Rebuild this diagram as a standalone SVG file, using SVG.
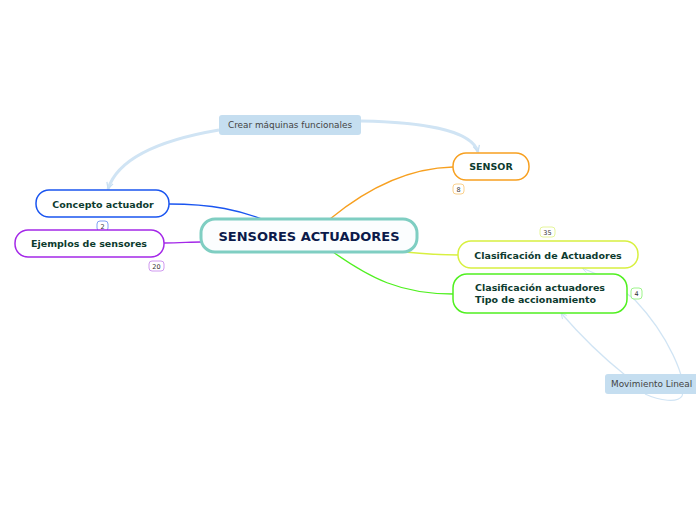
<svg xmlns="http://www.w3.org/2000/svg" width="696" height="520" viewBox="0 0 696 520">
<defs>
<style>
.node{fill:#ffffff;stroke-width:1.5}
.t{font-family:"DejaVu Sans",Verdana,sans-serif;font-weight:bold;font-size:9.5px;fill:#0d3b2e}
.badge{fill:#ffffff;stroke-width:1}
.bt{font-family:"DejaVu Sans",Verdana,sans-serif;font-size:6.5px;fill:#333;text-anchor:middle}
.lbl{fill:#c5def0}
.lt{font-family:"DejaVu Sans",Verdana,sans-serif;font-size:8.9px;fill:#444}
.rel{fill:none;stroke:#d0e4f4}
.c{fill:none;stroke-width:1.3}
</style>
<marker id="ah" viewBox="0 0 10 10" refX="9" refY="5" markerWidth="8" markerHeight="8" orient="auto" markerUnits="userSpaceOnUse">
<path d="M1,1 L9,5 L1,9" fill="none" stroke="#c8dff2" stroke-width="1.6"/>
</marker>
<marker id="ahs" viewBox="0 0 10 10" refX="9" refY="5" markerWidth="7" markerHeight="7" orient="auto" markerUnits="userSpaceOnUse">
<path d="M1,1 L9,5 L1,9" fill="none" stroke="#c8dff2" stroke-width="1.2"/>
</marker>
</defs>
<rect width="696" height="520" fill="#ffffff"/>
<g id="connectors">
<path class="c" stroke="#1a55f0" d="M169,204 C215,204 240,211 262,219"/>
<path class="c" stroke="#a428e8" d="M164,243 C180,243 190,242 201,242"/>
<path class="c" stroke="#f7a020" d="M330,219 C370,186 410,168 453,167"/>
<path class="c" stroke="#d8f040" d="M405,252 C425,254 440,255 458,255"/>
<path class="c" stroke="#50f020" d="M333,252 C370,278 400,294 453,294"/>
<path class="rel" stroke-width="3" marker-end="url(#ah)" d="M219,130 C160,140 118,158 108,189"/>
<path class="rel" stroke-width="3" marker-end="url(#ah)" d="M361,121 C420,122 472,130 478,152"/>
<path class="rel" stroke-width="1.2" marker-end="url(#ahs)" d="M625,375 C600,355 580,335 561,313"/>
<path class="rel" stroke-width="1.2" marker-end="url(#ahs)" d="M645,394 C660,401 678,403 682,396 C688,380 668,335 635,300 C615,283 596,273 582,268"/>
</g>
<g id="crear">
<rect class="lbl" x="219" y="115" width="142" height="20" rx="3"/>
<text class="lt" x="290" y="128" text-anchor="middle">Crear máquinas funcionales</text>
</g>
<g id="movimiento">
<rect class="lbl" x="605" y="374" width="100" height="20" rx="3"/>
<text class="lt" x="611" y="387">Movimiento Lineal</text>
</g>
<g id="central">
<rect x="201" y="219" width="216" height="33" rx="14" fill="#fbfdfe" stroke="#7fcec2" stroke-width="3"/>
<text x="309" y="241" text-anchor="middle" style="font-family:'DejaVu Sans',Verdana,sans-serif;font-weight:bold;font-size:13px;fill:#0b1a4a">SENSORES ACTUADORES</text>
</g>
<g id="sensor">
<rect class="node" x="453" y="153" width="76" height="27" rx="13" stroke="#f7a020"/>
<text class="t" x="491" y="170" text-anchor="middle">SENSOR</text>
<rect class="badge" x="453" y="184" width="11" height="10" rx="3" stroke="#fbd08a"/>
<text class="bt" x="458.5" y="191.5">8</text>
</g>
<g id="concepto">
<rect class="node" x="36" y="190" width="133" height="27" rx="13" stroke="#1a55f0"/>
<text class="t" x="103" y="207.5" text-anchor="middle">Concepto actuador</text>
<rect class="badge" x="97" y="221" width="11" height="10" rx="3" stroke="#7fa0f5"/>
<text class="bt" x="102.5" y="228.5">2</text>
</g>
<g id="ejemplos">
<rect class="node" x="15" y="230" width="149" height="27" rx="13" stroke="#a428e8"/>
<text class="t" x="89" y="246.5" text-anchor="middle">Ejemplos de sensores</text>
<rect class="badge" x="149" y="261" width="15" height="10" rx="3" stroke="#d09af0"/>
<text class="bt" x="156.5" y="268.5">20</text>
</g>
<g id="clasif1">
<rect class="node" x="458" y="241" width="180" height="27" rx="13" stroke="#d8f040"/>
<text class="t" x="548" y="258.5" text-anchor="middle">Clasificación de Actuadores</text>
<rect class="badge" x="540" y="227" width="15" height="10" rx="3" stroke="#e5f59a"/>
<text class="bt" x="547.5" y="234.5">35</text>
</g>
<g id="clasif2">
<rect class="node" x="453" y="274" width="174" height="39" rx="14" stroke="#50f020"/>
<text class="t" x="475" y="291">Clasificación actuadores</text>
<text class="t" x="475" y="303">Tipo de accionamiento</text>
<rect class="badge" x="631" y="288" width="11" height="11" rx="3" stroke="#9df58a"/>
<text class="bt" x="636.5" y="296">4</text>
</g>
</svg>
